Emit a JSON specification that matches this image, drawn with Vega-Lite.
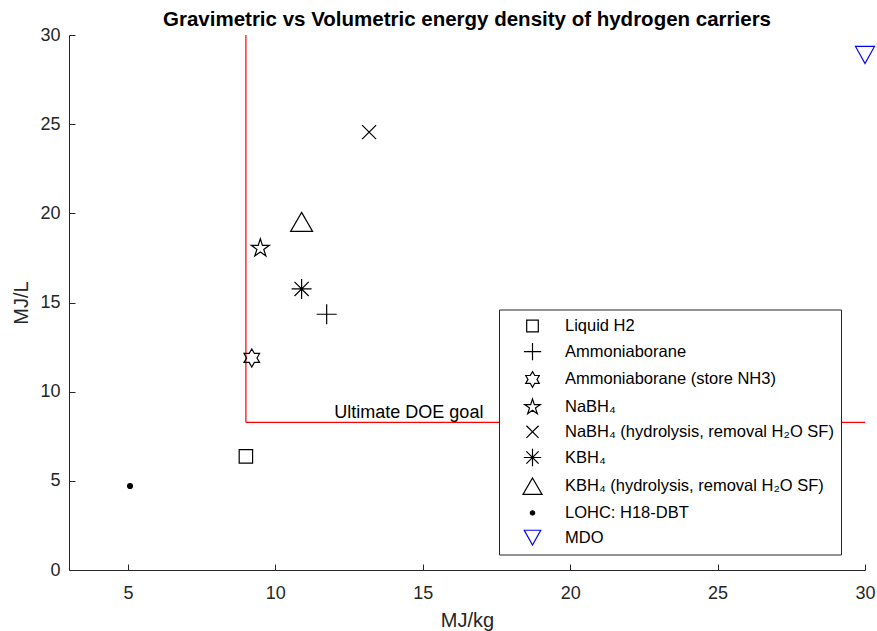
{
  "$schema": "https://vega.github.io/schema/vega-lite/v6.json",
  "width": 796,
  "height": 535,
  "autosize": {"type": "none"},
  "padding": {"left": 69, "top": 35, "right": 12, "bottom": 61},
  "background": "white",
  "title": {
    "text": "Gravimetric vs Volumetric energy density of hydrogen carriers",
    "font": "Liberation Sans",
    "fontSize": 20.5,
    "fontWeight": "bold",
    "color": "black",
    "anchor": "middle",
    "frame": "group",
    "baseline": "bottom",
    "offset": 0,
    "dy": 24
  },
  "config": {
    "view": {"stroke": null},
    "axis": {
      "grid": false,
      "domainColor": "#262626",
      "tickColor": "#262626",
      "labelColor": "#262626",
      "titleColor": "#262626",
      "labelFont": "Liberation Sans",
      "titleFont": "Liberation Sans",
      "labelFontSize": 18,
      "titleFontSize": 20,
      "titleFontWeight": "normal",
      "tickSize": -6,
      "domainWidth": 1,
      "tickWidth": 1,
      "labelFlush": false,
      "labelOverlap": false
    },
    "legend": {
      "orient": "none",
      "legendX": 430,
      "legendY": 274.5,
      "fillColor": "white",
      "strokeColor": "#262626",
      "strokeWidth": 1,
      "cornerRadius": 0,
      "padding": 7,
      "symbolOffset": 17,
      "labelOffset": 23,
      "rowPadding": 5.7,
      "labelFont": "Liberation Sans",
      "labelFontSize": 16.5,
      "labelColor": "black",
      "labelLimit": 0,
      "symbolSize": 300,
      "symbolStrokeWidth": 1.2
    }
  },
  "layer": [
    {
      "data": {
        "values": [
          {"gravimetric": 9, "volumetric": 8.28, "g2": 9, "v2": 30},
          {"gravimetric": 9, "volumetric": 8.28, "g2": 30, "v2": 8.28}
        ]
      },
      "mark": {"type": "rule", "color": "#FF0000", "strokeWidth": 1.2},
      "encoding": {
        "x": {"field": "gravimetric", "type": "quantitative", "title": "MJ/kg"},
        "x2": {"field": "g2"},
        "y": {"field": "volumetric", "type": "quantitative", "title": "MJ/L"},
        "y2": {"field": "v2"}
      }
    },
    {
      "data": {
        "values": [
          {"carrier": "Liquid H2", "gravimetric": 9.0, "volumetric": 6.37},
          {"carrier": "Ammoniaborane", "gravimetric": 11.74, "volumetric": 14.34},
          {"carrier": "Ammoniaborane (store NH3)", "gravimetric": 9.2, "volumetric": 11.89},
          {"carrier": "NaBH₄", "gravimetric": 9.49, "volumetric": 18.04},
          {"carrier": "NaBH₄ (hydrolysis, removal H₂O SF)", "gravimetric": 13.18, "volumetric": 24.55},
          {"carrier": "KBH₄", "gravimetric": 10.89, "volumetric": 15.76},
          {"carrier": "KBH₄ (hydrolysis, removal H₂O SF)", "gravimetric": 10.89, "volumetric": 19.52},
          {"carrier": "LOHC: H18-DBT", "gravimetric": 5.07, "volumetric": 4.71},
          {"carrier": "MDO", "gravimetric": 30.0, "volumetric": 28.88}
        ]
      },
      "mark": {"type": "point", "size": 400, "strokeWidth": 1.2, "opacity": 1},
      "encoding": {
        "x": {
          "field": "gravimetric",
          "type": "quantitative",
          "title": "MJ/kg",
          "scale": {"domain": [3, 30], "nice": false, "zero": false},
          "axis": {"values": [5, 10, 15, 20, 25, 30], "labelPadding": 20, "titlePadding": 8}
        },
        "y": {
          "field": "volumetric",
          "type": "quantitative",
          "title": "MJ/L",
          "scale": {"domain": [0, 30], "nice": false, "zero": false},
          "axis": {"values": [0, 5, 10, 15, 20, 25, 30], "labelPadding": 15, "titlePadding": 8}
        },
        "shape": {
          "field": "carrier",
          "type": "nominal",
          "title": null,
          "scale": {
            "domain": ["Liquid H2", "Ammoniaborane", "Ammoniaborane (store NH3)", "NaBH₄", "NaBH₄ (hydrolysis, removal H₂O SF)", "KBH₄", "KBH₄ (hydrolysis, removal H₂O SF)", "LOHC: H18-DBT", "MDO"],
            "range": [
              "M-0.67,-0.67H0.67V0.67H-0.67Z",
              "M-1,0H1M0,-1V1",
              "M0,-0.9L0.26,-0.45L0.779,-0.45L0.52,0L0.779,0.45L0.26,0.45L0,0.9L-0.26,0.45L-0.779,0.45L-0.52,0L-0.779,-0.45L-0.26,-0.45Z",
              "M0,-0.95L0.212,-0.292L0.904,-0.294L0.343,0.112L0.558,0.769L0,0.361L-0.558,0.769L-0.343,0.112L-0.904,-0.294L-0.212,-0.292Z",
              "M-0.7,-0.7L0.7,0.7M-0.7,0.7L0.7,-0.7",
              "M-1,0H1M0,-1V1M-0.707,-0.707L0.707,0.707M-0.707,0.707L0.707,-0.707",
              "M0,-0.95L1.1,0.95L-1.1,0.95Z",
              "M-0.25,0A0.25,0.25 0 1,0 0.25,0A0.25,0.25 0 1,0 -0.25,0Z",
              "M-0.95,-0.85L0.95,-0.85L0,0.85Z"
            ]
          }
        },
        "stroke": {
          "field": "carrier",
          "type": "nominal",
          "title": null,
          "scale": {
            "domain": ["Liquid H2", "Ammoniaborane", "Ammoniaborane (store NH3)", "NaBH₄", "NaBH₄ (hydrolysis, removal H₂O SF)", "KBH₄", "KBH₄ (hydrolysis, removal H₂O SF)", "LOHC: H18-DBT", "MDO"],
            "range": ["#000000", "#000000", "#000000", "#000000", "#000000", "#000000", "#000000", "#000000", "#0000FF"]
          }
        },
        "fill": {
          "field": "carrier",
          "type": "nominal",
          "title": null,
          "scale": {
            "domain": ["Liquid H2", "Ammoniaborane", "Ammoniaborane (store NH3)", "NaBH₄", "NaBH₄ (hydrolysis, removal H₂O SF)", "KBH₄", "KBH₄ (hydrolysis, removal H₂O SF)", "LOHC: H18-DBT", "MDO"],
            "range": ["transparent", "transparent", "transparent", "transparent", "transparent", "transparent", "transparent", "#000000", "transparent"]
          }
        }
      }
    },
    {
      "data": {"values": [{"gravimetric": 12, "volumetric": 8.8, "label": "Ultimate DOE goal"}]},
      "mark": {"type": "text", "align": "left", "baseline": "middle", "font": "Liberation Sans", "fontSize": 18, "color": "black"},
      "encoding": {
        "x": {"field": "gravimetric", "type": "quantitative", "title": "MJ/kg"},
        "y": {"field": "volumetric", "type": "quantitative", "title": "MJ/L"},
        "text": {"field": "label"}
      }
    }
  ]
}
